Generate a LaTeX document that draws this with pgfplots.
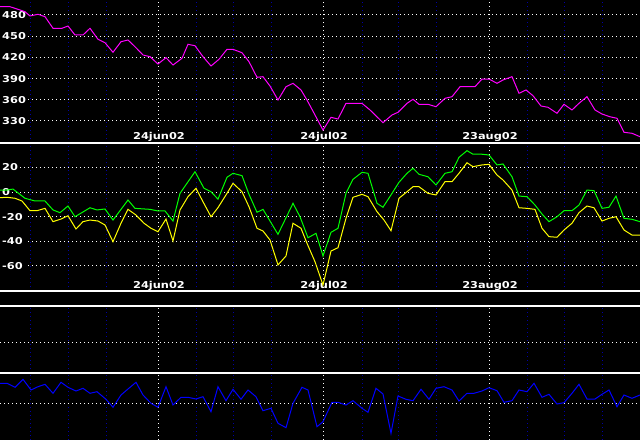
\documentclass[border=0pt]{standalone}
\usepackage{pgfplots}
\pgfplotsset{compat=1.18}
\usepackage{fontspec}
\setmainfont{DejaVu Sans}
\definecolor{gridblue}{RGB}{0,0,165}
\definecolor{mag}{RGB}{255,0,255}
\definecolor{grn}{RGB}{0,255,0}
\definecolor{yel}{RGB}{255,255,0}
\definecolor{blu}{RGB}{0,0,255}
\newcommand{\lbl}[1]{\scalebox{1.2}[1]{\fontsize{9.5}{10}\selectfont\bfseries #1}}
\pgfplotsset{
  panel/.style={
    scale only axis, width=640bp, xmin=0, xmax=640,
    axis line style={draw=none}, tick style={draw=none}, major tick length=0pt,
    anchor=south west, xticklabels={}, yticklabels={},
    xtick={30,68,106,196,233,271,362,398,436,527,564,602},
    extra x ticks={158,323,489}, extra x tick labels={},
    xmajorgrids, ymajorgrids,
    major grid style={gridblue, line width=1bp, dash pattern=on 1bp off 3bp},
    extra x tick style={major grid style={white, line width=1bp, dash pattern=on 1bp off 3bp}},
    y grid style={white, line width=1bp, dash pattern=on 1bp off 3bp},
  },
  every axis plot/.append style={line width=1bp, no markers},
}
\tikzset{
  lab/.style={white, fill=black, inner xsep=2bp, inner ysep=0.6bp, anchor=west},
  dlab/.style={white, fill=black, inner sep=0.6bp, anchor=base},
}
\begin{document}
\begin{tikzpicture}
\useasboundingbox (0bp,0bp) rectangle (640bp,440bp);
\fill[black] (0bp,0bp) rectangle (640bp,440bp);

% Panel 1: price
\begin{axis}[panel, at={(0bp,297.3bp)}, height=142.7bp, ymin=299.3, ymax=501.2,
  ytick={330,360,390,420,450,480}]
\node[lab] at (axis cs:0,480) {\lbl{480}};
\node[lab] at (axis cs:0,450) {\lbl{450}};
\node[lab] at (axis cs:0,420) {\lbl{420}};
\node[lab] at (axis cs:0,390) {\lbl{390}};
\node[lab] at (axis cs:0,360) {\lbl{360}};
\node[lab] at (axis cs:0,330) {\lbl{330}};
\node[dlab] at (axis cs:159,299.3) [yshift=3bp] {\lbl{24jun02}};
\node[dlab] at (axis cs:324,299.3) [yshift=3bp] {\lbl{24jul02}};
\node[dlab] at (axis cs:490,299.3) [yshift=3bp] {\lbl{23aug02}};
\addplot[mag] coordinates {(0,491.7) (10,491.7) (20,487.1) (25,484.6) (30,478.6) (38,481) (45,477.6) (53,461.2) (62,461.2) (68,464.4) (75,451.7) (83,451.7) (90,461.2) (98,445.6) (105,440.8) (113,427.2) (121,442.2) (128,444.6) (135,435.1) (143,423.4) (150,421) (158,410.6) (166,419.6) (173,409.2) (182,418.7) (188,438.5) (195,436.5) (203,421) (211,407.8) (219,417.3) (227,431.4) (233,431.4) (242,426.6) (249,413.9) (257,391.8) (263,392.7) (270,379.5) (278,359.7) (286,378.5) (293,383.3) (301,373.9) (307,359.7) (315,338.5) (323,317.2) (331,335.2) (338,332.8) (346,355) (362,355) (370,345.6) (383,327.6) (392,338.5) (398,342.3) (407,355) (413,360.7) (419,353.6) (428,353.6) (436,350.2) (445,362.1) (452,364.4) (460,378.5) (475,378.5) (482,389.4) (489,389.4) (497,383.3) (503,388) (512,392.7) (519,369.2) (526,373.9) (533,365.8) (541,351.2) (548,349.4) (557,340.9) (564,353.6) (572,345.6) (579,355) (587,364.4) (595,345.6) (602,339.9) (610,336) (617,333.8) (624,314) (632,312.6) (640,307.8)};
\end{axis}

% Panel 2: oscillators
\begin{axis}[panel, at={(0bp,148.5bp)}, height=148.8bp, ymin=-80.9, ymax=40.1,
  ytick={-60,-40,-20,0,20}]
\node[lab] at (axis cs:0,20) {\lbl{20}};
\node[lab] at (axis cs:0,0) {\lbl{0}};
\node[lab] at (axis cs:0,-20) {\lbl{-20}};
\node[lab] at (axis cs:0,-40) {\lbl{-40}};
\node[lab] at (axis cs:0,-60) {\lbl{-60}};
\node[dlab] at (axis cs:159,-80.9) [yshift=2.8bp] {\lbl{24jun02}};
\node[dlab] at (axis cs:324,-80.9) [yshift=2.8bp] {\lbl{24jul02}};
\node[dlab] at (axis cs:490,-80.9) [yshift=2.8bp] {\lbl{23aug02}};
\addplot[grn] coordinates {(0,1.6) (7,1.6) (13,2.4) (25,-5.1) (35,-7.3) (45,-7.3) (53,-14.6) (60,-16.8) (68,-11.4) (75,-20.1) (90,-12.8) (97,-14.6) (105,-13.8) (113,-22.8) (128,-6.5) (135,-13.3) (150,-14.1) (158,-15.4) (165,-15.4) (173,-23.6) (180,-1.1) (195,16.5) (204,3.0) (211,0.2) (218,-5.8) (227,12.0) (233,15.2) (242,13.3) (249,-1.9) (257,-16.5) (263,-14.1) (278,-34.4) (293,-9.2) (300,-20.1) (308,-37.2) (316,-33.6) (323,-52.0) (331,-32.8) (338,-29.5) (346,-1.1) (353,10.3) (362,16.0) (368,15.2) (377,-9.2) (383,-12.4) (392,-1.1) (399,7.9) (407,15.2) (413,19.3) (419,14.4) (428,12.4) (436,5.7) (445,15.2) (452,16.5) (459,28.2) (467,33.6) (473,30.7) (482,30.7) (489,30.1) (497,22.0) (503,22.8) (512,12.4) (519,-3.3) (527,-3.8) (535,-10.6) (542,-17.9) (549,-24.1) (557,-20.1) (564,-15.2) (572,-15.2) (579,-10.6) (587,1.6) (594,1.1) (602,-13.3) (609,-12.4) (616,-3.3) (624,-21.4) (632,-22.2) (640,-24.1)};
\addplot[yel] coordinates {(0,-4.6) (7,-4.3) (15,-5.1) (22,-7.3) (30,-15.2) (37,-15.2) (45,-13.3) (53,-24.1) (61,-22.0) (68,-19.3) (76,-30.1) (83,-24.1) (90,-22.8) (98,-23.6) (105,-26.8) (113,-40.4) (121,-25.4) (128,-14.1) (136,-18.7) (144,-25.4) (151,-29.5) (158,-32.3) (166,-22.0) (173,-39.8) (180,-14.6) (188,-3.8) (196,3.0) (203,-7.9) (211,-20.1) (218,-12.7) (227,-1.1) (233,7.1) (242,0.2) (249,-12.0) (257,-29.5) (263,-31.7) (270,-39.0) (278,-59.3) (286,-52.0) (293,-25.4) (301,-29.5) (307,-41.7) (315,-56.7) (323,-75.6) (331,-48.0) (338,-45.3) (346,-21.4) (353,-4.3) (362,-1.9) (368,-3.8) (377,-16.0) (384,-22.8) (391,-31.5) (399,-5.1) (407,0.2) (413,4.3) (419,4.3) (428,-1.1) (436,-2.4) (445,8.4) (452,8.4) (459,15.2) (467,23.8) (473,20.6) (482,22.0) (489,22.5) (497,13.8) (503,9.8) (512,1.6) (519,-12.8) (527,-13.3) (535,-14.1) (542,-29.5) (549,-36.3) (557,-36.8) (564,-30.9) (572,-25.4) (579,-16.8) (587,-11.4) (594,-12.8) (602,-23.6) (609,-21.4) (616,-20.1) (624,-30.9) (632,-35.0) (640,-35.0)};
\end{axis}

% Panel 3: empty
\begin{axis}[panel, at={(0bp,67.2bp)}, height=67bp, ymin=-30.8, ymax=36.2, ytick={0}]
\end{axis}

% Panel 4: blue oscillator
\begin{axis}[panel, at={(0bp,0bp)}, height=67.2bp, ymin=-37, ymax=30.2, ytick={0}]
\addplot[blu] coordinates {(0,19.7) (7,19.7) (15,15.7) (23,23.7) (31,13) (38,16.3) (45,18.7) (53,9.7) (61,20.7) (68,15.7) (76,12) (83,14.7) (90,9.7) (97,11.3) (106,3.7) (113,-4.3) (121,8) (128,14) (136,20.7) (143,8) (151,-0.3) (158,-4.3) (166,16.3) (173,-2) (181,5.7) (188,5.7) (196,4) (203,6.3) (211,-8.7) (218,16.3) (226,2.3) (233,13.7) (241,3.7) (248,13) (256,6.3) (263,-7.7) (271,-5.3) (278,-20.3) (286,-24.7) (293,-0.3) (302,15.7) (308,13) (317,-23.7) (323,-18.7) (332,0.7) (338,0.7) (346,-2) (353,2.3) (362,-5.3) (368,-9.3) (376,14.7) (383,9) (391,-30.3) (398,7) (406,3.7) (413,2.3) (421,13.7) (429,3.7) (436,14.7) (444,16.3) (452,13) (459,2) (467,9.7) (474,9.7) (482,12) (489,15.3) (497,12.3) (504,0.7) (512,2.3) (519,13) (527,11.3) (534,19.7) (542,5.7) (549,8.7) (557,-1) (564,0.3) (572,9.7) (579,18.7) (587,4) (595,4) (602,8.7) (609,13) (617,-3.7) (624,8) (632,4.7) (640,8)};
\end{axis}

% panel separators
\fill[black] (0bp,134.2bp) rectangle (640bp,148.5bp);
\draw[white, line width=2bp] (0bp,297.3bp) -- (640bp,297.3bp);
\draw[white, line width=2bp] (0bp,148.5bp) -- (640bp,148.5bp);
\draw[white, line width=2bp] (0bp,134.2bp) -- (640bp,134.2bp);
\draw[white, line width=2bp] (0bp,67.2bp) -- (640bp,67.2bp);
\end{tikzpicture}
\end{document}
